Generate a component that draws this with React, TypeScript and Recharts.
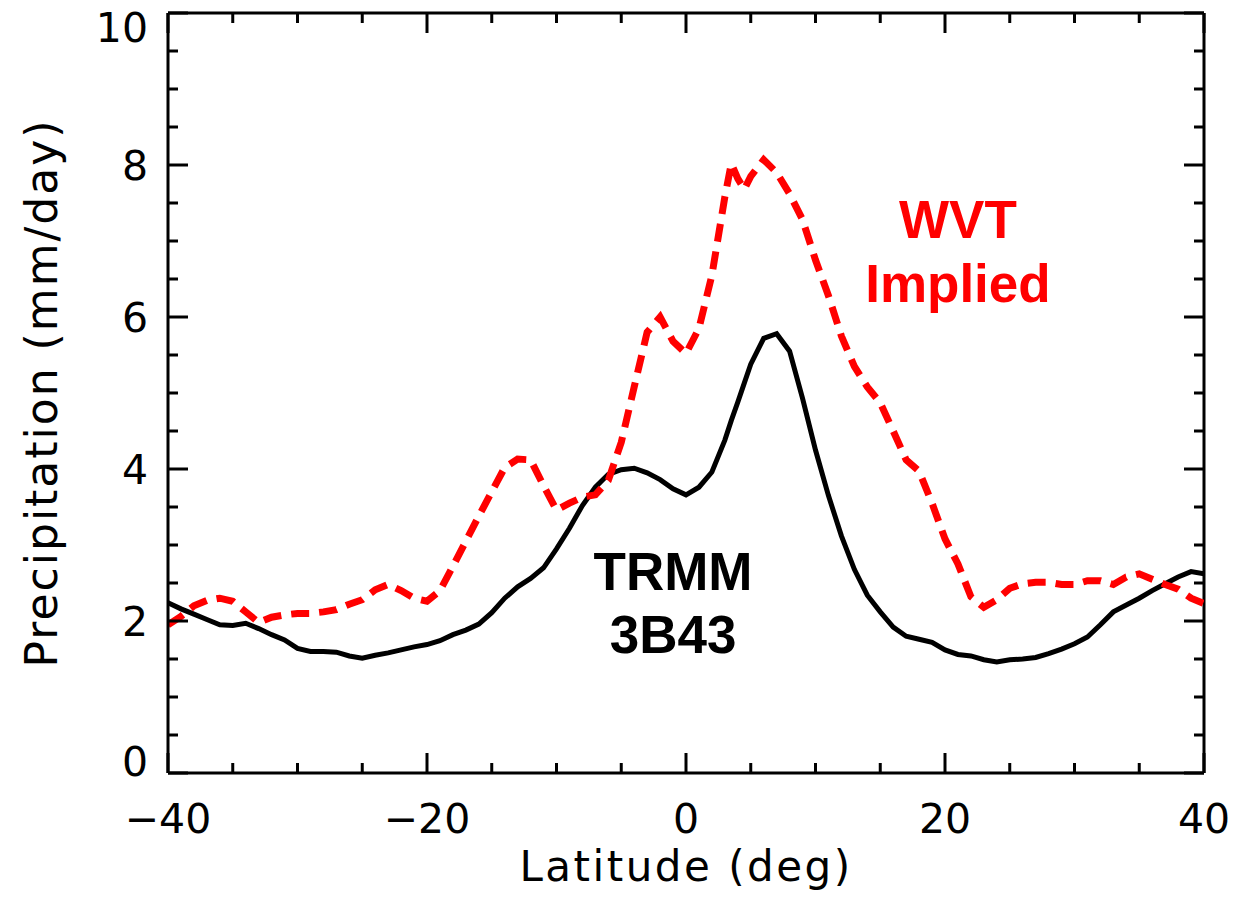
import React from "react";
import { LineChart, Line, XAxis, YAxis, ReferenceLine, ReferenceDot } from "recharts";

// latitude (deg), extra half-degree points where the WVT curve wiggles
const latitudes = [
  -40, -39, -38, -37, -36, -35, -34, -33, -32, -31,
  -30, -29, -28, -27, -26, -25, -24, -23, -22, -21,
  -20, -19, -18, -17, -16, -15, -14, -13, -12, -11,
  -10, -9, -8, -7, -6, -5, -4, -3, -2, -1,
  0, 1, 2, 3, 3.5, 4, 4.5, 5, 6, 7,
  8, 9, 10, 11, 12, 13, 14, 15, 16, 17,
  18, 19, 20, 21, 22, 23, 24, 25, 26, 27,
  28, 29, 30, 31, 32, 33, 34, 35, 36, 37,
  38, 39, 40,
];

// TRMM 3B43 precipitation (mm/day)
const trmm = [
  2.24, 2.16, 2.09, 2.02, 1.95, 1.94, 1.97, 1.9, 1.82, 1.75,
  1.64, 1.6, 1.6, 1.59, 1.54, 1.51, 1.55, 1.58, 1.62, 1.66,
  1.69, 1.74, 1.82, 1.88, 1.96, 2.11, 2.3, 2.45, 2.56, 2.7,
  2.95, 3.22, 3.52, 3.76, 3.93, 3.99, 4.01, 3.95, 3.86, 3.74,
  3.66, 3.76, 3.96, 4.38, 4.64, 4.88, 5.13, 5.38, 5.72, 5.78,
  5.55, 4.93, 4.25, 3.65, 3.12, 2.68, 2.34, 2.12, 1.92, 1.8,
  1.76, 1.72, 1.62, 1.56, 1.54, 1.49, 1.46, 1.49, 1.5, 1.52,
  1.57, 1.63, 1.7, 1.79, 1.95, 2.12, 2.21, 2.3, 2.4, 2.49,
  2.58, 2.65, 2.62,
];

// WVT implied precipitation (mm/day)
const wvt = [
  1.95, 2.06, 2.2, 2.27, 2.3, 2.26, 2.12, 1.98, 2.05, 2.08,
  2.1, 2.1, 2.12, 2.15, 2.22, 2.28, 2.41, 2.48, 2.4, 2.3,
  2.26, 2.4, 2.72, 3.05, 3.38, 3.7, 4.02, 4.13, 4.12, 3.78,
  3.46, 3.55, 3.63, 3.66, 3.85, 4.35, 5.08, 5.8, 6.0, 5.68,
  5.52, 5.85, 6.55, 7.58, 8.02, 7.82, 7.68, 7.85, 8.07, 7.9,
  7.62, 7.28, 6.75, 6.28, 5.75, 5.35, 5.08, 4.87, 4.5, 4.12,
  3.97, 3.55, 3.08, 2.75, 2.32, 2.18, 2.28, 2.43, 2.49, 2.51,
  2.51, 2.48, 2.48, 2.53, 2.53, 2.48, 2.58, 2.62, 2.55, 2.48,
  2.42, 2.3, 2.23,
];

const xTicks = [-40, -35, -30, -25, -20, -15, -10, -5, 0, 5, 10, 15, 20, 25, 30, 35, 40];
const yTicks = [
  0, 0.5, 1, 1.5, 2, 2.5, 3, 3.5, 4, 4.5, 5, 5.5, 6, 6.5, 7, 7.5, 8, 8.5, 9, 9.5, 10,
];

const data = latitudes.map((lat, i) => ({ lat, trmm: trmm[i], wvt: wvt[i] }));

const W = 1236;
const H = 902;
const MARGIN = { top: 13, right: 32, left: 0, bottom: 0 };
const Y_AXIS_W = 168;
const X_AXIS_H = 129;
const LEFT = MARGIN.left + Y_AXIS_W;
const RIGHT = W - MARGIN.right;
const TOP = MARGIN.top;
const BOTTOM = H - MARGIN.bottom - X_AXIS_H;

const AXIS_FONT = "DejaVu Sans";
const NOTE_FONT = "Liberation Sans, Arial, sans-serif";

const YTick = (props: any) => {
  const { y, payload } = props;
  const v = payload.value;
  const major = v % 2 === 0;
  const len = major ? 20 : 10;
  // IDL keeps the end labels inside the box
  let dy = 15;
  if (v === 0) dy = 3;
  if (v === 10) dy = 29;
  return (
    <g>
      <line x1={LEFT} x2={LEFT + len} y1={y} y2={y} stroke="#000" strokeWidth={3} />
      <line x1={RIGHT - len} x2={RIGHT} y1={y} y2={y} stroke="#000" strokeWidth={3} />
      {major && (
        <text x={LEFT - 20} y={y + dy} textAnchor="end" fontFamily={AXIS_FONT} fontSize={41} fill="#000">
          {v}
        </text>
      )}
    </g>
  );
};

const XTick = (props: any) => {
  const { x, payload } = props;
  const v = payload.value;
  const major = v % 20 === 0;
  const len = major ? 20 : 10;
  const label = v < 0 ? `\u2212${Math.abs(v)}` : `${v}`;
  return (
    <g>
      <line x1={x} x2={x} y1={BOTTOM} y2={BOTTOM - len} stroke="#000" strokeWidth={3} />
      <line x1={x} x2={x} y1={TOP} y2={TOP + len} stroke="#000" strokeWidth={3} />
      {major && (
        <text x={x} y={BOTTOM + 60} textAnchor="middle" fontFamily={AXIS_FONT} fontSize={41} fill="#000">
          {label}
        </text>
      )}
    </g>
  );
};

const note = (text: string, color: string) => (p: any) => (
  <text x={p.cx} y={p.cy} textAnchor="middle" fontFamily={NOTE_FONT} fontWeight="bold" fontSize={53} fill={color}>
    {text}
  </text>
);

export default function App() {
  return (
    <div style={{ position: "absolute", left: 0, top: 0, background: "#fff" }}>
      <LineChart width={W} height={H} data={data} margin={MARGIN}>
        <XAxis
          dataKey="lat"
          type="number"
          domain={[-40, 40]}
          ticks={xTicks}
          interval={0}
          allowDataOverflow
          height={X_AXIS_H}
          tickLine={false}
          axisLine={{ stroke: "#000", strokeWidth: 3 }}
          tick={<XTick />}
          label={{
            content: (p: any) => (
              <text
                x={p.viewBox.x + p.viewBox.width / 2}
                y={p.viewBox.y + 108}
                textAnchor="middle"
                fontFamily={AXIS_FONT}
                fontSize={42}
                letterSpacing={2.5}
                fill="#000"
              >
                Latitude (deg)
              </text>
            ),
          }}
        />
        <YAxis
          type="number"
          domain={[0, 10]}
          ticks={yTicks}
          interval={0}
          allowDataOverflow
          width={Y_AXIS_W}
          tickLine={false}
          axisLine={{ stroke: "#000", strokeWidth: 3 }}
          tick={<YTick />}
          label={{
            content: (p: any) => (
              <text
                transform={`translate(57, ${p.viewBox.y + p.viewBox.height / 2}) rotate(-90)`}
                textAnchor="middle"
                fontFamily={AXIS_FONT}
                fontSize={44}
                letterSpacing={2}
                fill="#000"
              >
                Precipitation (mm/day)
              </text>
            ),
          }}
        />
        <ReferenceLine y={10} stroke="#000" strokeWidth={3} />
        <ReferenceLine x={40} stroke="#000" strokeWidth={3} />
        <Line
          dataKey="trmm"
          type="linear"
          stroke="#000"
          strokeWidth={5}
          dot={false}
          isAnimationActive={false}
        />
        <Line
          dataKey="wvt"
          type="linear"
          stroke="#ff0000"
          strokeWidth={7}
          strokeDasharray="18 10"
          dot={false}
          isAnimationActive={false}
        />
        <ReferenceDot x={21} y={7.04} r={0} shape={note("WVT", "#ff0000")} />
        <ReferenceDot x={21} y={6.2} r={0} shape={note("Implied", "#ff0000")} />
        <ReferenceDot x={-1} y={2.41} r={0} shape={note("TRMM", "#000")} />
        <ReferenceDot x={-1} y={1.58} r={0} shape={note("3B43", "#000")} />
      </LineChart>
    </div>
  );
}
